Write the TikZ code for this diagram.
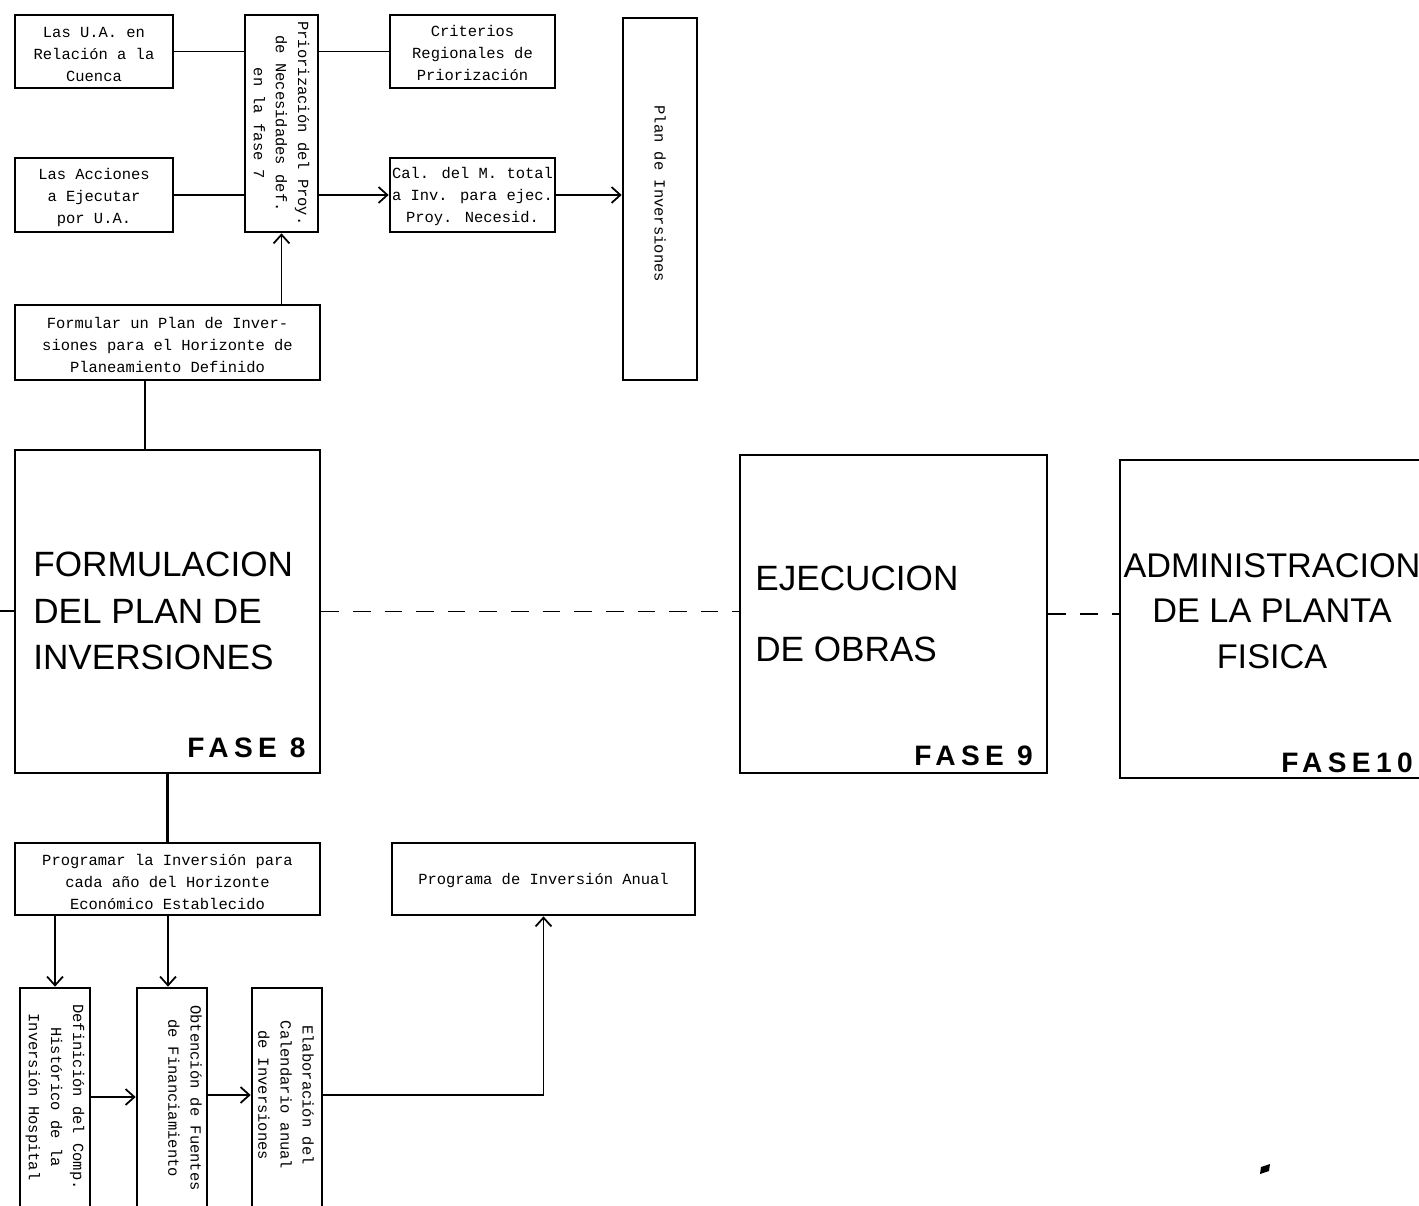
\documentclass[tikz,border=0pt]{standalone}
\usepackage{fontspec}
\setmainfont{Liberation Sans}
\newfontfamily\typefont{Liberation Mono}
\newfontfamily\fasefont[LetterSpace=19]{Liberation Sans}
\usetikzlibrary{arrows.meta,fit}
\begin{document}
\begin{tikzpicture}[x=0.02cm,y=-0.02cm,
  box/.style={draw,line width=1.5pt,inner sep=0pt},
  small/.style={font=\typefont\fontsize{8.8}{12.6}\selectfont,align=center,inner sep=0pt},
  big/.style={font=\fontsize{20}{26.3}\selectfont,inner sep=0pt},
  fase/.style={font=\fasefont\bfseries\fontsize{16}{16}\selectfont,inner sep=0pt},
  conn/.style={line width=1pt},
  arr/.style={conn,-{Straight Barb[length=5pt,width=9pt]}},
  dashconn/.style={line width=1pt,dash pattern=on 10pt off 8pt}]
\useasboundingbox (0,0) rectangle (1419,1206);
% top row
\node[box,fit={(15,15)(173,88)}] (b1) {};
\node[small] (b1t) at ([yshift=-1.5pt]b1.center) {Las U.A. en\\Relación a la\\Cuenca};
\node[box,fit={(15,158)(173,232)}] (b2) {};
\node[small] (b2t) at ([yshift=-1.5pt]b2.center) {Las Acciones\\a Ejecutar\\por U.A.};
\node[box,fit={(245,15)(318,232)}] (prio) {};
\node[small,rotate=-90] (priot) at (prio.center) {Priorización del Proy.\\de Necesidades def.\\en la fase 7};
\node[box,fit={(390,15)(555,88)}] (b3) {};
\node[small] (b3t) at ([yshift=-1pt]b3.center) {Criterios\\Regionales de\\Priorización};
\node[box,fit={(390,158)(555,232)}] (b4) {};
\node[small] (b4t) at ([yshift=-1pt]b4.center) {Cal. del M. total\\a Inv. para ejec.\\Proy. Necesid.};
\node[box,fit={(623,18)(697,380)}] (plan) {};
\node[small,rotate=-90] (plant) at ([yshift=3pt]plan.center) {Plan de Inversiones};
\node[box,fit={(15,305)(320,380)}] (form) {};
\node[small] (formt) at ([yshift=-1.5pt]form.center) {Formular un Plan de Inver-\\siones para el Horizonte de\\Planeamiento Definido};
% phases
\node[box,fit={(15,450)(320,773)}] (f8) {};
\node[big,anchor=west,align=left] (f8t) at (33,611) {FORMULACION\\DEL PLAN DE\\INVERSIONES};
\node[fase,anchor=base east] (f8l) at (306,757) {FASE 8};
\node[box,fit={(740,455)(1047,773)}] (ej) {};
\node[big,anchor=west,align=left,font=\fontsize{20}{40}\selectfont] (ejt) at (755,614) {EJECUCION\\DE OBRAS};
\node[fase,anchor=base east] (ejl) at (1033,765) {FASE 9};
\draw[line width=1.5pt] (1440,460) -- (1120,460) coordinate (admtl) -- (1120,778) coordinate (admbl) -- (1440,778);
\coordinate (admw) at (1120,612);
\node[big,align=center,font=\fontsize{19.5}{26}\selectfont] (admt) at (1272,611) {ADMINISTRACION\\DE LA PLANTA\\FISICA};
\node[fase,anchor=base east] (adml) at (1413,772) {FASE10};
% bottom
\node[box,fit={(15,843)(320,915)}] (prog) {};
\node[small] (progt) at ([yshift=-1.5pt]prog.center) {Programar la Inversión para\\cada año del Horizonte\\Económico Establecido};
\node[box,fit={(392,843)(695,915)}] (anual) {};
\node[small] (anualt) at ([yshift=-1pt]anual.center) {Programa de Inversión Anual};
\node[box,fit={(20,988)(90,1212)}] (ba) {};
\node[small,rotate=-90] (bat) at (55,1097) {Definición del Comp.\\Histórico de la\\Inversión Hospital};
\node[box,fit={(137,988)(207,1212)}] (bb) {};
\node[small,rotate=-90] (bbt) at (185,1098) {Obtención de Fuentes\\de Financiamiento};
\node[box,fit={(252,988)(322,1212)}] (bc) {};
\node[small,rotate=-90] (bct) at (286,1095) {Elaboración del\\Calendario anual\\de Inversiones};
% connectors
\coordinate (lstub) at (0,611);
\draw[conn] (b1.east) -- (prio.west |- b1.east);
\draw[conn] (b2.east) -- (prio.west |- b2.east);
\draw[conn] (prio.east |- b3.west) -- (b3.west);
\draw[arr] (prio.east |- b4.west) -- (b4.west);
\draw[arr] (b4.east) -- (plan.west |- b4.east);
\draw[arr] (prio.south |- form.north) -- (prio.south);
\draw[line width=1.3pt] (f8.north -| 145,0) -- (form.south -| 145,0);
\draw[line width=1.3pt] (f8.south) -- (prog.north);
\draw[conn] (lstub) -- (f8.west |- lstub);
\draw[dashconn] (f8.east) -- (ej.west |- f8.east);
\draw[dashconn] (ej.east) -- (admw |- ej.east);
\draw[arr] (ba.north |- prog.south) -- (ba.north);
\draw[arr] (bb.north -| 168,0) ++(0,-73) -- (bb.north -| 168,0);
\draw[arr] (ba.east |- 0,1097) -- (bb.west |- 0,1097);
\draw[arr] (bb.east |- 0,1095) -- (bc.west |- 0,1095);
\draw[arr] (bc.east |- 0,1095) -| (anual.south);
% speck
\fill (1261,1167) -- (1270,1164) -- (1269,1171) -- (1260,1174) -- cycle;
\end{tikzpicture}
\end{document}
